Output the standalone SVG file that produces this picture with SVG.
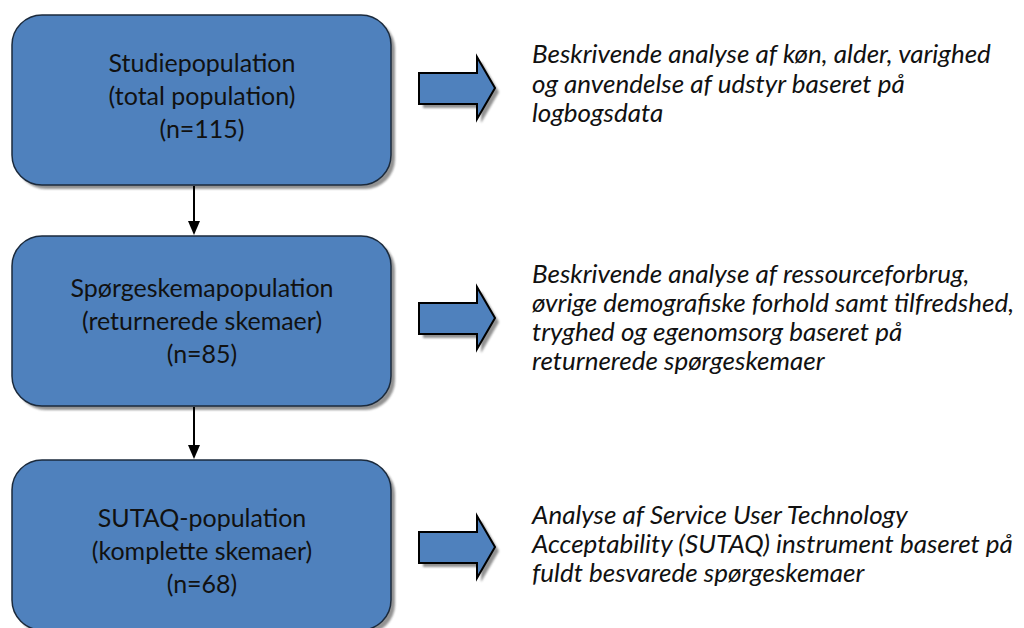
<svg xmlns="http://www.w3.org/2000/svg" width="1024" height="628" viewBox="0 0 1024 628">
<defs>
<style>
.box{fill:#4F81BD;stroke:#1b2a3c;stroke-width:1.5}
.shadow{fill:#7f7f7f;opacity:0.85}
.bt{font-family:Lato,"Open Sans",sans-serif;font-size:25px;fill:#111;text-anchor:middle}
.rt{font-family:Lato,"Open Sans",sans-serif;font-size:26px;font-style:italic;fill:#111}
.arr{fill:#4F81BD;stroke:#000;stroke-width:2;stroke-linejoin:miter}
.conn{stroke:#000;stroke-width:2;fill:none}
</style>
<filter id="blur" x="-10%" y="-10%" width="120%" height="120%"><feGaussianBlur stdDeviation="1.2"/></filter>
</defs>

<g id="node1">
<rect class="shadow" x="16" y="19" width="379" height="170" rx="30" filter="url(#blur)"/>
<rect class="box" x="12" y="15" width="379" height="170" rx="30"/>
<text class="bt" x="202" y="72">Studiepopulation</text>
<text class="bt" x="202" y="105">(total population)</text>
<text class="bt" x="202" y="138">(n=115)</text>
</g>

<g id="node2">
<rect class="shadow" x="16" y="240" width="379" height="170" rx="30" filter="url(#blur)"/>
<rect class="box" x="12" y="236" width="379" height="170" rx="30"/>
<text class="bt" x="202" y="297">Spørgeskemapopulation</text>
<text class="bt" x="202" y="330">(returnerede skemaer)</text>
<text class="bt" x="202" y="363">(n=85)</text>
</g>

<g id="node3">
<rect class="shadow" x="16" y="464" width="379" height="170" rx="30" filter="url(#blur)"/>
<rect class="box" x="12" y="460" width="379" height="170" rx="30"/>
<text class="bt" x="202" y="527">SUTAQ-population</text>
<text class="bt" x="202" y="560">(komplette skemaer)</text>
<text class="bt" x="202" y="593">(n=68)</text>
</g>

<g id="connectors">
<line class="conn" x1="194" y1="186" x2="194" y2="221"/>
<path d="M188,221 L200,221 L194,235 Z" fill="#000"/>
<line class="conn" x1="194" y1="407" x2="194" y2="445"/>
<path d="M188,445 L200,445 L194,459 Z" fill="#000"/>
</g>

<g id="arrow1">
<path class="shadow" d="M423,77 L481,77 L481,61 L499,92 L481,123 L481,108 L423,108 Z" filter="url(#blur)"/>
<path class="arr" d="M419,73 L477,73 L477,57 L495,88 L477,119 L477,104 L419,104 Z"/>
</g>
<g id="arrow2">
<path class="shadow" d="M423,307 L481,307 L481,291 L499,322 L481,353 L481,338 L423,338 Z" filter="url(#blur)"/>
<path class="arr" d="M419,303 L477,303 L477,287 L495,318 L477,349 L477,334 L419,334 Z"/>
</g>
<g id="arrow3">
<path class="shadow" d="M423,536 L481,536 L481,520 L499,551 L481,582 L481,567 L423,567 Z" filter="url(#blur)"/>
<path class="arr" d="M419,532 L477,532 L477,516 L495,547 L477,578 L477,563 L419,563 Z"/>
</g>

<g id="text1">
<text class="rt" x="532" y="63">Beskrivende analyse af køn, alder, varighed</text>
<text class="rt" x="532" y="93">og anvendelse af udstyr baseret på</text>
<text class="rt" x="532" y="122">logbogsdata</text>
</g>
<g id="text2">
<text class="rt" x="532" y="283">Beskrivende analyse af ressourceforbrug,</text>
<text class="rt" x="532" y="312">øvrige demografiske forhold samt tilfredshed,</text>
<text class="rt" x="532" y="341">tryghed og egenomsorg baseret på</text>
<text class="rt" x="532" y="370">returnerede spørgeskemaer</text>
</g>
<g id="text3">
<text class="rt" x="532" y="524">Analyse af Service User Technology</text>
<text class="rt" x="532" y="553">Acceptability (SUTAQ) instrument baseret på</text>
<text class="rt" x="532" y="582">fuldt besvarede spørgeskemaer</text>
</g>
</svg>
